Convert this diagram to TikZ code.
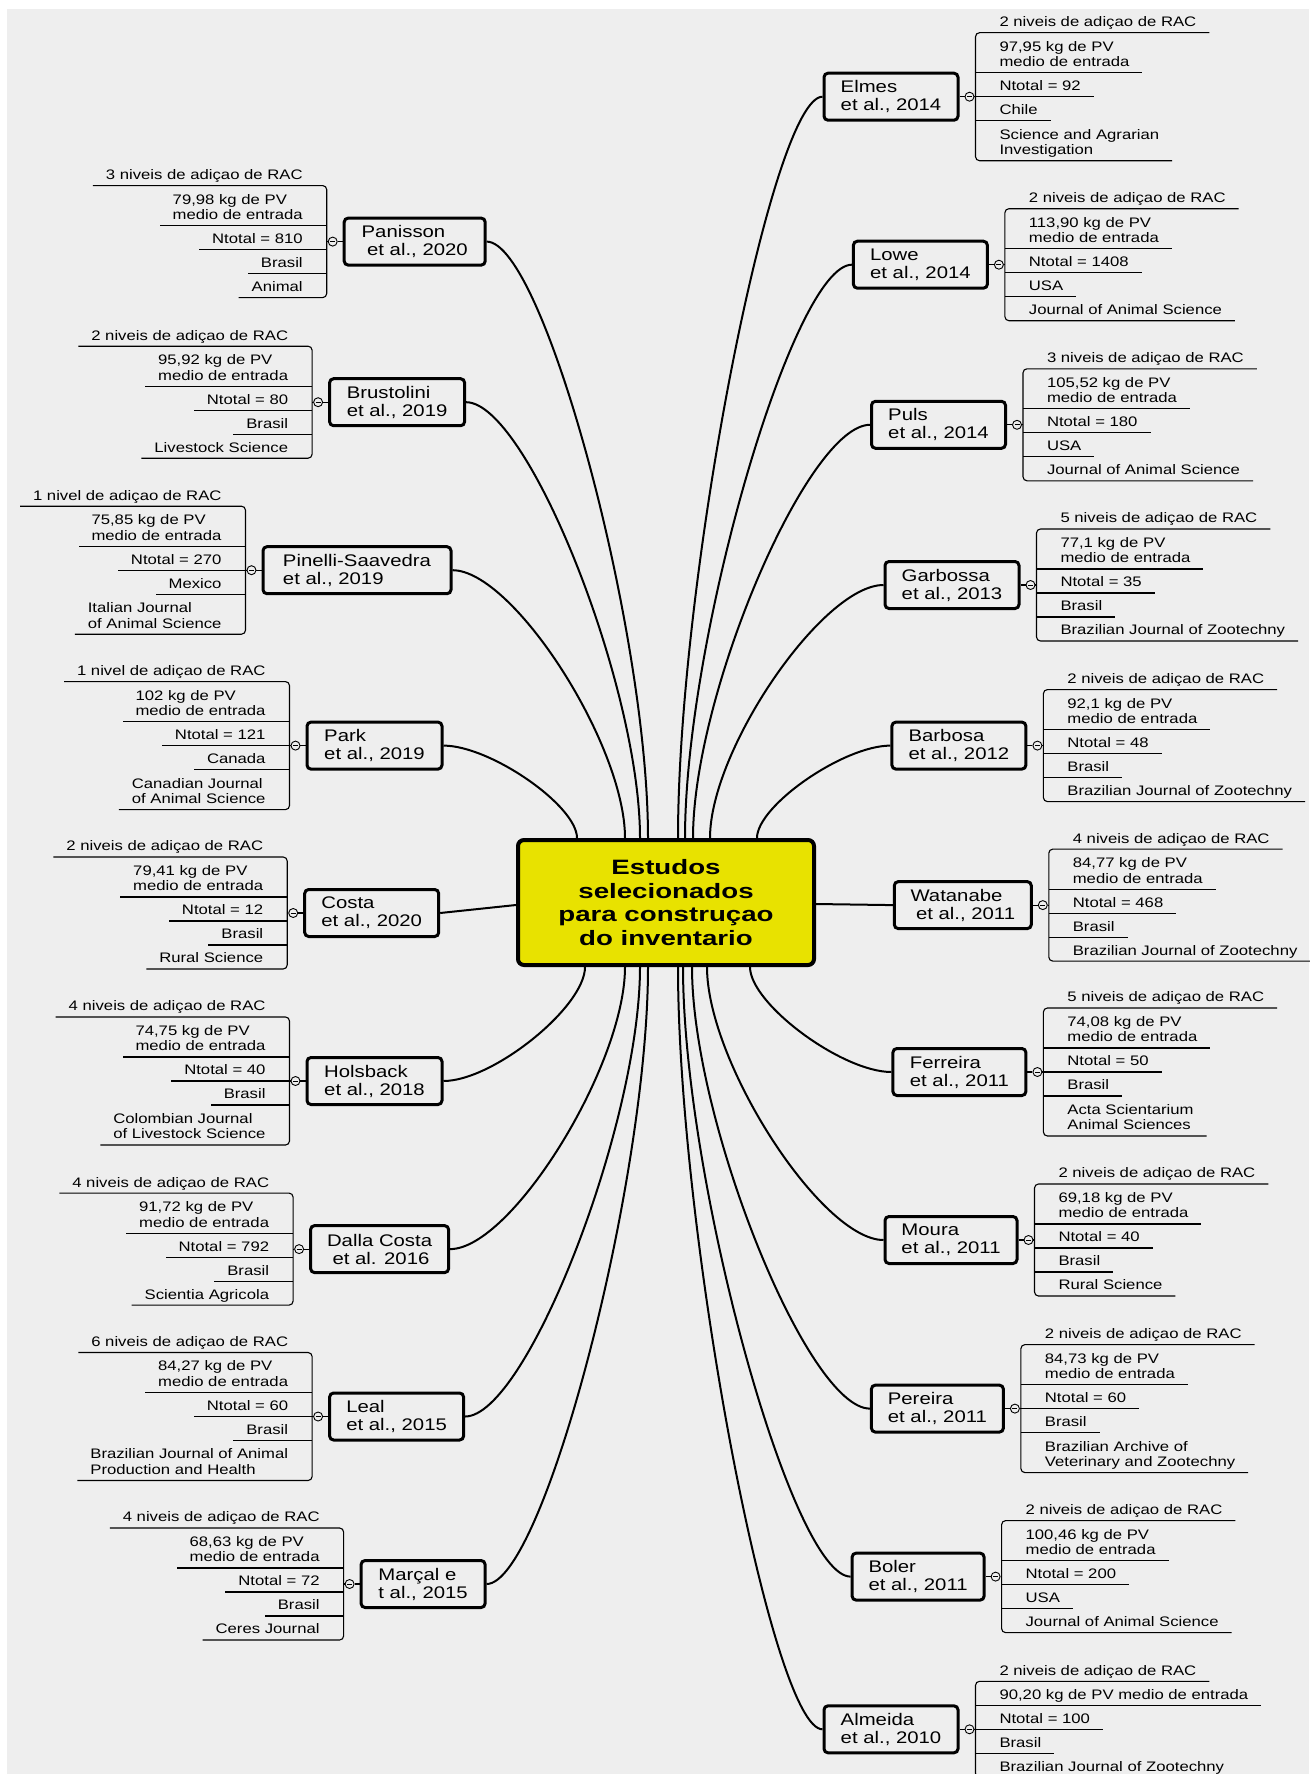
\documentclass[tikz,border=0pt]{standalone}
\usepackage{fontspec}
\setmainfont{Liberation Sans}[FakeStretch=1.21]
\newfontfamily\centerfam{Liberation Sans}[FakeStretch=1.33]
\usetikzlibrary{calc}
\definecolor{bg}{RGB}{238,238,238}
\definecolor{mainyellow}{RGB}{232,226,0}
\newcommand\leaffont{\fontsize{13.8}{15.5}\selectfont}
\newcommand\topicfont{\fontsize{16.8}{18}\selectfont}
\newcommand\centerfont{\centerfam\bfseries\fontsize{20.8}{23.7}\selectfont}
\def\offsA{\def\oA{-56}\def\oB{-16}\def\oC{8}\def\oD{32}\def\oE{56}}
\def\offsB{\def\oA{-64}\def\oB{-24}\def\oC{0}\def\oD{24}\def\oE{64}}
\def\offsC{\def\oA{-48}\def\oB{-24}\def\oC{0}\def\oD{24}\def\oE{48}}
\tikzset{
  topic/.style={draw=black, line width=3pt, rounded corners=4pt, minimum height=47pt, align=left, font=\topicfont, inner xsep=12pt, fill=bg},
  leaf/.style={inner sep=0pt, outer sep=0pt, align=left, font=\leaffont, execute at end node=\strut},
  brk/.style={line width=1.1pt, draw=black},
  conn/.style={line width=2pt, draw=black},
  collapse/.style={circle, draw=black, line width=0.9pt, fill=bg, minimum size=9pt, inner sep=0pt},
  mainbox/.style={draw=black, line width=4pt, rounded corners=6pt, fill=mainyellow, minimum width=296pt, minimum height=125pt, align=center, font=\centerfont}
}
\newcommand\topicR[5]{%
  \node[topic, minimum width=#4-3] (#1) at (#2,#3) {#5};
  \pgfmathsetmacro\curbx{#2+#4/2+16}%
  \def\curcy{#3}%
  \node[collapse] (#1-o) at (\curbx-6,#3) {};
  \draw[brk] (#1.east) -- (#1-o.west);
  \draw[brk] (#1-o.east) -- (\curbx,#3);
  \draw[line width=0.9pt] ([xshift=-2.5pt]#1-o.center) -- ([xshift=2.5pt]#1-o.center);
}
\newcommand\topicL[5]{%
  \node[topic, minimum width=#4-3] (#1) at (#2,#3) {#5};
  \pgfmathsetmacro\curbx{#2-#4/2-16}%
  \def\curcy{#3}%
  \node[collapse] (#1-o) at (\curbx+6,#3) {};
  \draw[brk] (#1.west) -- (#1-o.east);
  \draw[brk] (#1-o.west) -- (\curbx,#3);
  \draw[line width=0.9pt] ([xshift=-2.5pt]#1-o.center) -- ([xshift=2.5pt]#1-o.center);
}
\newcommand\setys[1]{%
  \csname offs#1\endcsname
  \pgfmathsetmacro\yA{\curcy+(\oA)}%
  \pgfmathsetmacro\yB{\curcy+(\oB)}%
  \pgfmathsetmacro\yC{\curcy+(\oC)}%
  \pgfmathsetmacro\yD{\curcy+(\oD)}%
  \pgfmathsetmacro\yE{\curcy+(\oE)}%
}
\newcommand\leavesR[7]{%
  \setys{#2}%
  \node[leaf, anchor=south west] (#1-1) at (\curbx+24,\yA-1.4) {#3};
  \node[leaf, anchor=south west] (#1-2) at (\curbx+24,\yB-1.4) {#4};
  \node[leaf, anchor=south west] (#1-3) at (\curbx+24,\yC-1.4) {#5};
  \node[leaf, anchor=south west] (#1-4) at (\curbx+24,\yD-1.4) {#6};
  \node[leaf, anchor=south west] (#1-5) at (\curbx+24,\yE-1.4) {#7};
  \draw[brk, rounded corners=4pt] ([shift={(13,1.4)}]#1-1.south east) -- (\curbx,\yA) -- (\curbx,\yE) -- ([shift={(13,1.4)}]#1-5.south east);
  \draw[brk] (\curbx,\yB) -- ([shift={(13,1.4)}]#1-2.south east);
  \draw[brk] (\curbx,\yC) -- ([shift={(13,1.4)}]#1-3.south east);
  \draw[brk] (\curbx,\yD) -- ([shift={(13,1.4)}]#1-4.south east);
}
\newcommand\leavesL[7]{%
  \setys{#2}%
  \node[leaf, anchor=south east] (#1-1) at (\curbx-24,\yA-1.4) {#3};
  \node[leaf, anchor=south east] (#1-2) at (\curbx-24,\yB-1.4) {#4};
  \node[leaf, anchor=south east] (#1-3) at (\curbx-24,\yC-1.4) {#5};
  \node[leaf, anchor=south east] (#1-4) at (\curbx-24,\yD-1.4) {#6};
  \node[leaf, anchor=south east] (#1-5) at (\curbx-24,\yE-1.4) {#7};
  \draw[brk, rounded corners=4pt] ([shift={(-13,1.4)}]#1-1.south west) -- (\curbx,\yA) -- (\curbx,\yE) -- ([shift={(-13,1.4)}]#1-5.south west);
  \draw[brk] (\curbx,\yB) -- ([shift={(-13,1.4)}]#1-2.south west);
  \draw[brk] (\curbx,\yC) -- ([shift={(-13,1.4)}]#1-3.south west);
  \draw[brk] (\curbx,\yD) -- ([shift={(-13,1.4)}]#1-4.south west);
}
\newcommand\connT[3]{%
  \coordinate (#1) at ([xshift=#2pt]main.north);
  \draw[conn] (#1) .. controls ($(#1)!0.35!(#1 |- #3)$) and ($(#3)!0.35!(#1 |- #3)$) .. (#3);
}
\newcommand\connB[3]{%
  \coordinate (#1) at ([xshift=#2pt]main.south);
  \draw[conn] (#1) .. controls ($(#1)!0.35!(#1 |- #3)$) and ($(#3)!0.35!(#1 |- #3)$) .. (#3);
}
\begin{document}
\begin{tikzpicture}[x=1pt,y=-1pt]
\useasboundingbox (0,0) rectangle (1309,1774);
\fill[white] (0,0) rectangle (1309,1774);
\fill[bg] (7,9) rectangle (1309,1774);

\node[mainbox] (main) at (666,902.5) {Estudos\\selecionados\\para construçao\\do inventario};

% left branches
\topicL{pan}{414.7}{241.6}{144}{Panisson\\\hspace*{5.5pt}et al., 2020}
\leavesL{panl}{A}{3 niveis de adiçao de RAC}{79,98 kg de PV\\medio de entrada}{Ntotal = 810}{Brasil}{Animal}
\topicL{bru}{397.1}{402.2}{138}{Brustolini\\et al., 2019}
\leavesL{brul}{A}{2 niveis de adiçao de RAC}{95,92 kg de PV\\medio de entrada}{Ntotal = 80}{Brasil}{Livestock Science}
\topicL{pin}{357}{570.2}{191}{Pinelli-Saavedra\\et al., 2019}
\leavesL{pinl}{B}{1 nivel de adiçao de RAC}{75,85 kg de PV\\medio de entrada}{Ntotal = 270}{Mexico}{Italian Journal\\of Animal Science}
\topicL{park}{374.5}{745.6}{138}{Park\\et al., 2019}
\leavesL{parkl}{B}{1 nivel de adiçao de RAC}{102 kg de PV\\medio de entrada}{Ntotal = 121}{Canada}{Canadian Journal\\of Animal Science}
\topicL{cos}{371.7}{913}{137}{Costa\\et al., 2020}
\leavesL{cosl}{A}{2 niveis de adiçao de RAC}{79,41 kg de PV\\medio de entrada}{Ntotal = 12}{Brasil}{Rural Science}
\topicL{hol}{374.5}{1081}{138}{Holsback\\et al., 2018}
\leavesL{holl}{B}{4 niveis de adiçao de RAC}{74,75 kg de PV\\medio de entrada}{Ntotal = 40}{Brasil}{Colombian Journal\\of Livestock Science}
\topicL{dal}{379.6}{1249.1}{141}{Dalla Costa\\\hspace*{5.5pt}et al. 2016}
\leavesL{dall}{A}{4 niveis de adiçao de RAC}{91,72 kg de PV\\medio de entrada}{Ntotal = 792}{Brasil}{Scientia Agricola}
\topicL{lea}{396.6}{1416.5}{137}{Leal\\et al., 2015}
\leavesL{leal}{B}{6 niveis de adiçao de RAC}{84,27 kg de PV\\medio de entrada}{Ntotal = 60}{Brasil}{Brazilian Journal of Animal\\Production and Health}
\topicL{mar}{423.1}{1584}{127}{Marçal e\\t al., 2015}
\leavesL{marl}{A}{4 niveis de adiçao de RAC}{68,63 kg de PV\\medio de entrada}{Ntotal = 72}{Brasil}{Ceres Journal}

% right branches
\topicR{elm}{891}{96.7}{137}{Elmes\\et al., 2014}
\leavesR{elml}{B}{2 niveis de adiçao de RAC}{97,95 kg de PV\\medio de entrada}{Ntotal = 92}{Chile}{Science and Agrarian\\Investigation}
\topicR{low}{920.4}{264.7}{137}{Lowe\\et al., 2014}
\leavesR{lowl}{A}{2 niveis de adiçao de RAC}{113,90 kg de PV\\medio de entrada}{Ntotal = 1408}{USA}{Journal of Animal Science}
\topicR{pul}{938.5}{424.8}{137}{Puls\\et al., 2014}
\leavesR{pull}{A}{3 niveis de adiçao de RAC}{105,52 kg de PV\\medio de entrada}{Ntotal = 180}{USA}{Journal of Animal Science}
\topicR{gar}{952}{585}{137}{Garbossa\\et al., 2013}
\leavesR{garl}{A}{5 niveis de adiçao de RAC}{77,1 kg de PV\\medio de entrada}{Ntotal = 35}{Brasil}{Brazilian Journal of Zootechny}
\topicR{bar}{958.9}{745.6}{137}{Barbosa\\et al., 2012}
\leavesR{barl}{A}{2 niveis de adiçao de RAC}{92,1 kg de PV\\medio de entrada}{Ntotal = 48}{Brasil}{Brazilian Journal of Zootechny}
\topicR{wat}{962.8}{905.1}{140}{Watanabe\\\hspace*{5.5pt}et al., 2011}
\leavesR{watl}{A}{4 niveis de adiçao de RAC}{84,77 kg de PV\\medio de entrada}{Ntotal = 468}{Brasil}{Brazilian Journal of Zootechny}
\topicR{fer}{959.4}{1072}{136}{Ferreira\\et al., 2011}
\leavesR{ferl}{B}{5 niveis de adiçao de RAC}{74,08 kg de PV\\medio de entrada}{Ntotal = 50}{Brasil}{Acta Scientarium\\Animal Sciences}
\topicR{mou}{951}{1240}{135}{Moura\\et al., 2011}
\leavesR{moul}{A}{2 niveis de adiçao de RAC}{69,18 kg de PV\\medio de entrada}{Ntotal = 40}{Brasil}{Rural Science}
\topicR{per}{937.4}{1408.6}{135}{Pereira\\et al., 2011}
\leavesR{perl}{B}{2 niveis de adiçao de RAC}{84,73 kg de PV\\medio de entrada}{Ntotal = 60}{Brasil}{Brazilian Archive of\\Veterinary and Zootechny}
\topicR{bol}{918.1}{1576.6}{135}{Boler\\et al., 2011}
\leavesR{boll}{A}{2 niveis de adiçao de RAC}{100,46 kg de PV\\medio de entrada}{Ntotal = 200}{USA}{Journal of Animal Science}
\topicR{alm}{891}{1729.3}{137}{Almeida\\et al., 2010}
\leavesR{alml}{C}{2 niveis de adiçao de RAC}{90,20 kg de PV medio de entrada}{Ntotal = 100}{Brasil}{Brazilian Journal of Zootechny}

% connectors
\connT{s-park}{-89}{park.east}
\connT{s-pin}{-41}{pin.east}
\connT{s-bru}{-26}{bru.east}
\connT{s-pan}{-18}{pan.east}
\connT{s-elm}{12}{elm.west}
\connT{s-low}{19}{low.west}
\connT{s-pul}{27}{pul.west}
\connT{s-gar}{44}{gar.west}
\connT{s-bar}{91}{bar.west}
\connB{s-hol}{-81}{hol.east}
\connB{s-dal}{-41}{dal.east}
\connB{s-lea}{-26}{lea.east}
\connB{s-mar}{-18}{mar.east}
\connB{s-alm}{12}{alm.west}
\connB{s-bol}{17}{bol.west}
\connB{s-per}{26}{per.west}
\connB{s-mou}{41}{mou.west}
\connB{s-fer}{84}{fer.west}
\draw[conn] ([yshift=-2.5pt]main.west) -- (cos.east);
\draw[conn] ([yshift=-1.5pt]main.east) -- (wat.west);
\end{tikzpicture}
\end{document}
